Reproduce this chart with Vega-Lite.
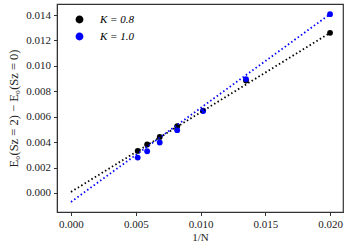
{
  "$schema": "https://vega.github.io/schema/vega-lite/v6.json",
  "autosize": {"type": "none"},
  "width": 286,
  "height": 208,
  "padding": {"left": 57, "top": 4, "right": 7, "bottom": 38},
  "config": {
    "font": "Liberation Serif",
    "view": {"stroke": "#333333", "strokeWidth": 1.2},
    "axis": {"labelFont": "Liberation Serif", "titleFont": "Liberation Serif", "labelFontSize": 11, "titleFontSize": 11, "titleFontWeight": "normal", "labelColor": "#222", "titleColor": "#222", "tickColor": "#333", "domainColor": "#333", "grid": false, "tickSize": 3.5, "labelPadding": 3, "labelOverlap": false},
    "legend": {"labelFont": "Liberation Serif", "labelFontSize": 11}
  },
  "datasets": {
    "pts": [
      {"x": 0.02, "y": 0.0126, "K": "K = 0.8"},
      {"x": 0.01351, "y": 0.00885, "K": "K = 0.8"},
      {"x": 0.0102, "y": 0.00648, "K": "K = 0.8"},
      {"x": 0.0082, "y": 0.00525, "K": "K = 0.8"},
      {"x": 0.00685, "y": 0.00441, "K": "K = 0.8"},
      {"x": 0.00588, "y": 0.00381, "K": "K = 0.8"},
      {"x": 0.00515, "y": 0.00331, "K": "K = 0.8"},
      {"x": 0.02, "y": 0.01407, "K": "K = 1.0"},
      {"x": 0.01351, "y": 0.00896, "K": "K = 1.0"},
      {"x": 0.0102, "y": 0.00644, "K": "K = 1.0"},
      {"x": 0.0082, "y": 0.00494, "K": "K = 1.0"},
      {"x": 0.00685, "y": 0.00397, "K": "K = 1.0"},
      {"x": 0.00588, "y": 0.00328, "K": "K = 1.0"},
      {"x": 0.00515, "y": 0.00278, "K": "K = 1.0"}
    ],
    "fit": [
      {"x": 0.0, "y": 0.00008, "K": "K = 0.8"},
      {"x": 0.02, "y": 0.0126, "K": "K = 0.8"},
      {"x": 0.0, "y": -0.00071, "K": "K = 1.0"},
      {"x": 0.02, "y": 0.01407, "K": "K = 1.0"}
    ]
  },
  "encoding": {
    "x": {"field": "x", "type": "quantitative", "title": "1/N", "scale": {"domain": [-0.00108, 0.0210], "nice": false, "zero": false}, "axis": {"values": [0, 0.005, 0.01, 0.015, 0.02], "format": ".3f", "titlePadding": 2, "labelOverlap": false}},
    "y": {"field": "y", "type": "quantitative", "title": "E₀(Sz = 2) − E₀(Sz = 0)", "scale": {"domain": [-0.0015, 0.01487], "nice": false, "zero": false}, "axis": {"values": [0, 0.002, 0.004, 0.006, 0.008, 0.01, 0.012, 0.014], "format": ".3f", "titlePadding": 5, "titleFontSize": 12.5, "labelOverlap": false}},
    "color": {"field": "K", "type": "nominal", "scale": {"domain": ["K = 0.8", "K = 1.0"], "range": ["black", "blue"]}, "legend": {"title": null, "orient": "none", "legendX": 17, "legendY": 10, "symbolSize": 40, "labelFontStyle": "italic", "labelOffset": 15, "rowPadding": 4}}
  },
  "layer": [
    {
      "data": {"name": "pts"},
      "mark": {"type": "point", "shape": "circle", "filled": true, "size": 34, "opacity": 1}
    },
    {
      "data": {"name": "fit"},
      "mark": {"type": "line", "strokeDash": [1.5, 2.5], "strokeWidth": 1.8}
    }
  ]
}
